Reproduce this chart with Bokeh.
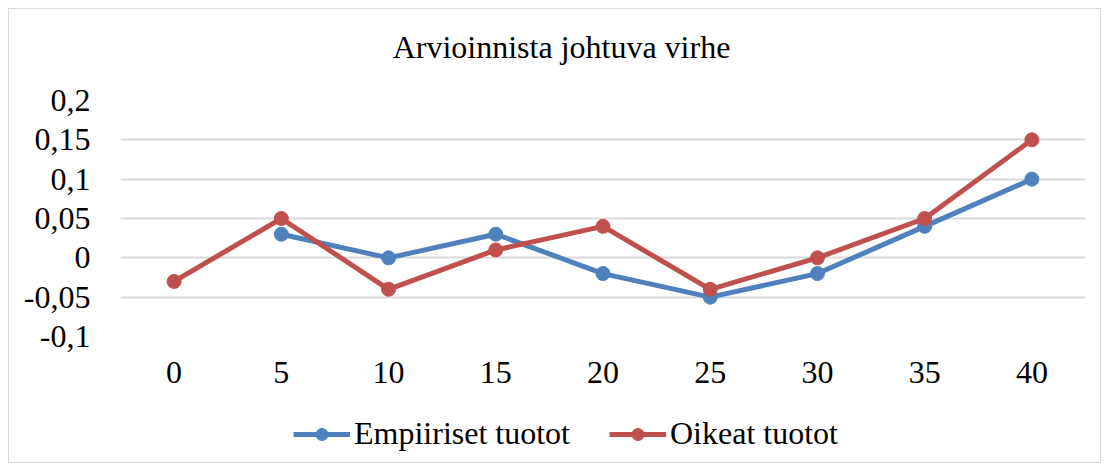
from bokeh.plotting import figure
from bokeh.models import Legend, LegendItem, FixedTicker, Label
from bokeh.layouts import column
from bokeh.embed import file_html
from bokeh.resources import INLINE

categories = ["0", "5", "10", "15", "20", "25", "30", "35", "40"]
empiiriset_x = ["5", "10", "15", "20", "25", "30", "35", "40"]
empiiriset = [0.03, 0.0, 0.03, -0.02, -0.05, -0.02, 0.04, 0.10]
oikeat_x = categories
oikeat = [-0.03, 0.05, -0.04, 0.01, 0.04, -0.04, 0.0, 0.05, 0.15]
y_ticks = [-0.1, -0.05, 0, 0.05, 0.1, 0.15, 0.2]
y_labels = ["-0,1", "-0,05", "0", "0,05", "0,1", "0,15", "0,2"]
series_names = ["Empiiriset tuotot", "Oikeat tuotot"]
title_text = "Arvioinnista johtuva virhe"

BLUE = "#4F81BD"
RED = "#C0504D"
FONT = "Liberation Serif"


def strip(height, xr=(0, 1), yr=(0, 1)):
    f = figure(width=1091, height=height, x_range=xr, y_range=yr,
               output_backend="svg", toolbar_location=None,
               x_axis_type=None, y_axis_type=None, min_border=0)
    f.outline_line_color = None
    f.grid.visible = False
    f.background_fill_color = "white"
    f.border_fill_color = "white"
    return f


# title strip
top = strip(60)
top.add_layout(Label(x=0.457, y=0.367, text=title_text, text_align="center",
                     text_baseline="middle", text_font=FONT,
                     text_font_size="32px", text_color="#000000"))

# main chart
p = figure(width=1091, height=331, x_range=categories, y_range=(-0.1, 0.2),
           output_backend="svg", toolbar_location=None,
           min_border_left=111, min_border_right=15, min_border_top=31,
           min_border_bottom=64)
p.outline_line_color = None
p.background_fill_color = "white"
p.border_fill_color = "white"

p.yaxis.ticker = FixedTicker(ticks=y_ticks)
p.yaxis.major_label_overrides = {v: l for v, l in zip(y_ticks, y_labels)}
for ax in (p.xaxis, p.yaxis):
    ax.axis_line_color = None
    ax.major_tick_line_color = None
    ax.minor_tick_line_color = None
    ax.major_tick_out = 0
    ax.major_label_text_font = FONT
    ax.major_label_text_font_size = "32px"
    ax.major_label_text_color = "#000000"
p.yaxis.major_label_standoff = 30
p.xaxis.major_label_standoff = 25

p.xgrid.grid_line_color = None
p.ygrid.ticker = FixedTicker(ticks=y_ticks)
p.ygrid.grid_line_color = "#d9d9d9"
p.ygrid.grid_line_width = 2

p.line(empiiriset_x, empiiriset, line_color=BLUE, line_width=5, line_join="round")
p.scatter(empiiriset_x, empiiriset, size=14, fill_color=BLUE, line_color=BLUE)
p.line(oikeat_x, oikeat, line_color=RED, line_width=5, line_join="round")
p.scatter(oikeat_x, oikeat, size=14, fill_color=RED, line_color=RED)

# legend strip below the chart: same series drawn outside its visible range,
# only their legend entries show
q = strip(62, xr=(100, 101), yr=(100, 101))
items = []
for name, color, vals in zip(series_names, [BLUE, RED], [empiiriset, oikeat]):
    xs = list(range(len(vals)))
    lr = q.line(xs, vals, line_color=color, line_width=5)
    sr = q.scatter(xs, vals, size=14, fill_color=color, line_color=color)
    items.append(LegendItem(label=name, renderers=[lr, sr]))
legend = Legend(items=items, orientation="horizontal", location=(173, 10),
                label_text_font=FONT, label_text_font_size="32px",
                label_text_color="#000000", glyph_width=57, glyph_height=30,
                label_standoff=4, spacing=39, border_line_color=None,
                background_fill_alpha=0, margin=0, padding=0)
q.add_layout(legend, "center")

layout = column(top, p, q, styles={"border": "1px solid #d9d9d9",
                                   "margin-left": "8px", "margin-top": "8px"})

open("out.html", "w").write(file_html(layout, INLINE))
